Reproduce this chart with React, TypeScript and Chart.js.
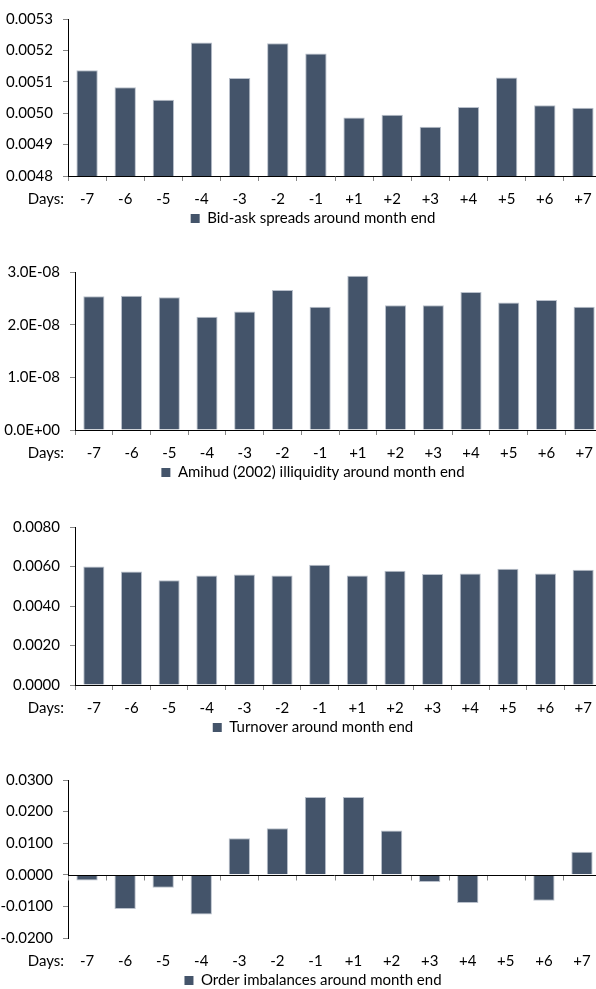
import React, { useEffect, useRef } from "react";
import { Chart, registerables } from "chart.js";

Chart.register(...registerables);

// ---------- data ----------
const days = ["-7", "-6", "-5", "-4", "-3", "-2", "-1", "+1", "+2", "+3", "+4", "+5", "+6", "+7"];

const bidAskSpreads = [0.005137, 0.005083, 0.005043, 0.005225, 0.005112, 0.005223, 0.00519, 0.004986, 0.004995, 0.004957, 0.00502, 0.005114, 0.005025, 0.005017];
const bidAskTicks = [0.0048, 0.0049, 0.005, 0.0051, 0.0052, 0.0053];

const amihudIlliquidity = [2.54e-8, 2.55e-8, 2.52e-8, 2.15e-8, 2.25e-8, 2.66e-8, 2.34e-8, 2.93e-8, 2.37e-8, 2.37e-8, 2.62e-8, 2.42e-8, 2.47e-8, 2.34e-8];
const amihudTicks = [0, 1e-8, 2e-8, 3e-8];

const turnover = [0.006, 0.00575, 0.0053, 0.00555, 0.00559, 0.00555, 0.00609, 0.00554, 0.00578, 0.00562, 0.00565, 0.00588, 0.00565, 0.00583];
const turnoverTicks = [0, 0.002, 0.004, 0.006, 0.008];

const orderImbalances = [-0.0018, -0.0108, -0.0041, -0.0126, 0.0116, 0.0147, 0.0246, 0.0246, 0.014, -0.0023, -0.0089, 0, -0.0082, 0.0073];
const orderTicks = [-0.02, -0.01, 0, 0.01, 0.02, 0.03];

// ---------- style ----------
const BAR = "#44546A";
const BAR_EDGE = "#b9c0cb";
const TICK = "#868686";
const FONT = { family: "Lato, 'DejaVu Sans', sans-serif", size: 15 };
const CANVAS_W = 626;
const TOP_PAD = 13;
const XAXIS_H = 29;
const LEGEND_H = 31;
const DAYS_RIGHT = 64;

const fixed4 = (v: number) => Number(v).toFixed(4);
const sci = (v: number) => {
  const [m, e] = Number(v).toExponential(1).split("e");
  const n = parseInt(e, 10);
  return m + "E" + (n < 0 ? "-" : "+") + String(Math.abs(n)).padStart(2, "0");
};

const daysLabelPlugin = {
  id: "daysLabel",
  afterDraw(chart: any) {
    const xs = chart.scales.x;
    const items = xs.getLabelItems();
    if (!items || !items.length) return;
    const it = items[0];
    const ctx = chart.ctx;
    ctx.save();
    ctx.font = `${FONT.size}px ${FONT.family}`;
    ctx.fillStyle = "#000";
    ctx.textAlign = "right";
    ctx.textBaseline = it.options.textBaseline;
    ctx.fillText("Days:", DAYS_RIGHT, it.options.translation[1] + (it.textOffset || 0));
    ctx.restore();
  },
};

const zeroAxisPlugin = {
  id: "zeroAxis",
  afterDraw(chart: any) {
    const { ctx, chartArea } = chart;
    const xs = chart.scales.x;
    const ys = chart.scales.y;
    const y = Math.round(ys.getPixelForValue(0)) + 0.5;
    const n = chart.data.labels.length;
    ctx.save();
    ctx.lineWidth = 1;
    ctx.strokeStyle = TICK;
    ctx.beginPath();
    for (let i = 0; i <= n; i++) {
      let bx: number;
      if (i === 0) bx = chartArea.left;
      else if (i === n) bx = chartArea.right;
      else bx = (xs.getPixelForValue(i - 1) + xs.getPixelForValue(i)) / 2;
      bx = Math.round(bx) + 0.5;
      ctx.moveTo(bx, y);
      ctx.lineTo(bx, y + 5);
    }
    ctx.stroke();
    ctx.strokeStyle = "#000";
    ctx.beginPath();
    ctx.moveTo(chartArea.left, y);
    ctx.lineTo(chartArea.right, y);
    ctx.stroke();
    ctx.restore();
  },
};

type PanelProps = {
  plotTop: number;
  plotBottom: number;
  axisLeft: number;
  axisRight: number;
  values: number[];
  ticks: number[];
  fmt: (v: number) => string;
  label: string;
  zeroAxis?: boolean;
};

function BarPanel(p: PanelProps) {
  const ref = useRef<HTMLCanvasElement | null>(null);
  const top = p.plotTop - TOP_PAD;
  const height = p.plotBottom - top + XAXIS_H + LEGEND_H;

  useEffect(() => {
    if (!ref.current) return;
    const chart = new Chart(ref.current, {
      type: "bar",
      data: {
        labels: days,
        datasets: [
          {
            label: p.label,
            data: p.values,
            backgroundColor: BAR,
            borderColor: BAR_EDGE,
            borderWidth: 1,
            barPercentage: 0.56,
            categoryPercentage: 1,
          },
        ],
      },
      options: {
        responsive: false,
        animation: false,
        layout: { padding: { left: 0, right: 0, top: TOP_PAD, bottom: 0 } },
        plugins: {
          legend: {
            position: "bottom",
            labels: {
              boxWidth: 9,
              boxHeight: 9,
              padding: 6,
              color: "#000",
              font: FONT,
              generateLabels: (c: any) =>
                c.data.datasets.map((d: any, i: number) => ({
                  text: d.label,
                  fillStyle: BAR,
                  strokeStyle: BAR,
                  lineWidth: 0,
                  hidden: false,
                  datasetIndex: i,
                  fontColor: "#000",
                })),
            },
          },
          tooltip: { enabled: false },
        },
        scales: {
          x: {
            grid: {
              display: true,
              drawOnChartArea: false,
              drawTicks: true,
              tickLength: 5,
              color: p.zeroAxis ? "rgba(0,0,0,0)" : TICK,
              offset: true,
            },
            border: { display: !p.zeroAxis, color: "#000" },
            ticks: { color: "#000", font: FONT, padding: 9, maxRotation: 0, autoSkip: false },
            afterFit: (s: any) => {
              s.height = XAXIS_H;
            },
          },
          y: {
            min: p.ticks[0],
            max: p.ticks[p.ticks.length - 1],
            grid: { drawOnChartArea: false, drawTicks: true, tickLength: 5, color: TICK },
            border: { color: "#000" },
            ticks: { color: "#000", font: FONT, padding: 10, callback: (v: any) => p.fmt(Number(v)) },
            afterBuildTicks: (s: any) => {
              s.ticks = p.ticks.map((v) => ({ value: v }));
            },
            afterFit: (s: any) => {
              s.width = p.axisLeft;
            },
          },
          spacer: {
            type: "linear",
            position: "right",
            display: true,
            grid: { display: false, drawTicks: false },
            border: { display: false },
            ticks: { display: false },
            afterFit: (s: any) => {
              s.width = CANVAS_W - p.axisRight;
            },
          },
        },
      } as any,
      plugins: p.zeroAxis ? [daysLabelPlugin, zeroAxisPlugin] : [daysLabelPlugin],
    });
    return () => chart.destroy();
  }, []);

  return (
    <canvas
      ref={ref}
      width={CANVAS_W}
      height={height}
      style={{ position: "absolute", left: 0, top, width: CANVAS_W, height }}
    />
  );
}

export default function App() {
  return (
    <div
      style={{
        position: "absolute",
        left: 0,
        top: 0,
        width: 596,
        height: 989,
        overflow: "hidden",
        background: "#fff",
      }}
    >
      <BarPanel plotTop={13} plotBottom={176} axisLeft={68} axisRight={602} values={bidAskSpreads} ticks={bidAskTicks} fmt={fixed4} label="Bid-ask spreads around month end" />
      <BarPanel plotTop={266} plotBottom={430} axisLeft={75} axisRight={603} values={amihudIlliquidity} ticks={amihudTicks} fmt={sci} label="Amihud (2002) illiquidity around month end" />
      <BarPanel plotTop={521} plotBottom={685} axisLeft={75} axisRight={602} values={turnover} ticks={turnoverTicks} fmt={fixed4} label="Turnover around month end" />
      <BarPanel plotTop={774} plotBottom={938} axisLeft={68} axisRight={601} values={orderImbalances} ticks={orderTicks} fmt={fixed4} label="Order imbalances around month end" zeroAxis />
    </div>
  );
}
